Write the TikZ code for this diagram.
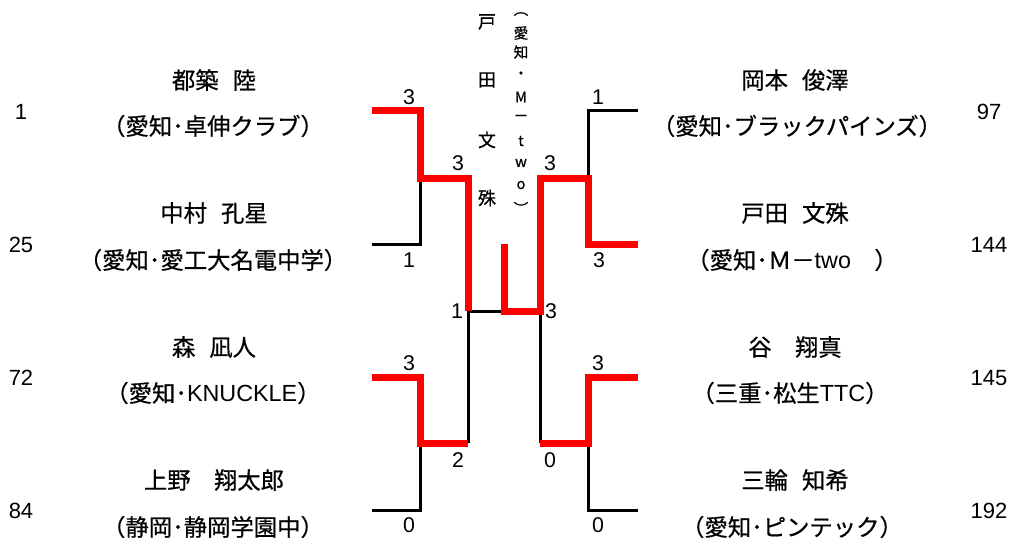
\documentclass[tikz,border=0pt]{standalone}
\usepackage{fontspec}
\setmainfont{Noto Sans CJK JP}[FakeBold=0.6]
\newfontfamily\numfont{Liberation Sans}
\newcommand\latn[1]{{\numfont #1}}
\newcommand\namegap{\hspace{0.6em}}
\begin{document}
\begin{tikzpicture}[x=0.75pt,y=-0.75pt,
  win/.style={draw=red, line width=5.25pt, line join=miter},
  lose/.style={draw=black, line width=2.25pt},
  pname/.style={font=\fontsize{17.5}{19}\selectfont, inner sep=0pt},
  score/.style={font=\numfont\fontsize{16}{18}\selectfont, inner sep=0pt},
  seed/.style={font=\numfont\fontsize{16.5}{18}\selectfont, inner sep=0pt},
  vbig/.style={font=\fontsize{13.5}{15}\selectfont, inner sep=0pt},
  vsmall/.style={font=\fontsize{11}{12}\selectfont, inner sep=0pt}]
\useasboundingbox (0,0) rectangle (1015,540);
% bracket points
\coordinate (a1) at (372,110); \coordinate (a1j) at (420,110);
\coordinate (a2) at (372,244); \coordinate (a2j) at (420,244);
\coordinate (aj) at (420,178); \coordinate (ae) at (468,178);
\coordinate (b1) at (372,377); \coordinate (b1j) at (420,377);
\coordinate (b2) at (372,510); \coordinate (b2j) at (420,510);
\coordinate (bj) at (420,443); \coordinate (be) at (468,443);
\coordinate (fl) at (468,311); \coordinate (fc) at (504,311);
\coordinate (fw) at (504,244); \coordinate (fr) at (540,311);
\coordinate (c1) at (638,110); \coordinate (c1j) at (588,110);
\coordinate (c2) at (638,244); \coordinate (c2j) at (588,244);
\coordinate (cj) at (588,178); \coordinate (ce) at (540,178);
\coordinate (d1) at (638,377); \coordinate (d1j) at (588,377);
\coordinate (d2) at (638,510); \coordinate (d2j) at (588,510);
\coordinate (dj) at (588,443); \coordinate (de) at (540,443);
% losers
\draw[lose] (a2) -- (a2j) -- (aj);
\draw[lose] (b2) -- (b2j) -- (bj);
\draw[lose] (be) -- (fl) -- (fc);
\draw[lose] (c1) -- (c1j) -- (cj);
\draw[lose] (d2) -- (d2j) -- (dj);
\draw[lose] (de) -- (fr);
% winners
\draw[win] (a1) -- (a1j) -- (aj) -- (ae) -- (fl);
\draw[win] (b1) -- (b1j) -- (bj) -- (be);
\draw[win] (c2) -- (c2j) -- (cj) -- (ce) -- (fr) -- (fc) -- (fw);
\draw[win] (d1) -- (d1j) -- (dj) -- (de);
% scores
\node[score] (s1) at (409,97) {3};
\node[score] (s2) at (409,260) {1};
\node[score] (s3) at (458,163) {3};
\node[score] (s4) at (457,311) {1};
\node[score] (s5) at (550,163) {3};
\node[score] (s6) at (598,97) {1};
\node[score] (s7) at (599,260) {3};
\node[score] (s8) at (551,311) {3};
\node[score] (s9) at (409,363) {3};
\node[score] (s10) at (409,525) {0};
\node[score] (s11) at (458,460) {2};
\node[score] (s12) at (550,460) {0};
\node[score] (s13) at (598,363) {3};
\node[score] (s14) at (598,525) {0};
% seeds
\node[seed] (n1) at (21,112) {1};
\node[seed] (n25) at (21,245) {25};
\node[seed] (n72) at (21,378) {72};
\node[seed] (n84) at (21,511) {84};
\node[seed] (n97) at (989,112) {97};
\node[seed] (n144) at (989,245) {144};
\node[seed] (n145) at (989,378) {145};
\node[seed] (n192) at (989,511) {192};
% left names
\node[pname] (p1) at (214,80) {都築\namegap 陸};
\node[pname] (t1) at (213,126) {（愛知･卓伸クラブ）};
\node[pname] (p2) at (214,213) {中村\namegap 孔星};
\node[pname] (t2) at (213,260) {（愛知･愛工大名電中学）};
\node[pname] (p3) at (214,347) {森\namegap 凪人};
\node[pname] (t3) at (213,393) {（愛知･\latn{KNUCKLE}）};
\node[pname] (p4) at (214,480) {上野　翔太郎};
\node[pname] (t4) at (213,527) {（静岡･静岡学園中）};
% right names
\node[pname] (p5) at (795,80) {岡本\namegap 俊澤};
\node[pname] (t5) at (797,126) {（愛知･ブラックパインズ）};
\node[pname] (p6) at (795,213) {戸田\namegap 文殊};
\node[pname] (t6) at (792,260) {（愛知･Ｍ－\latn{two}　）};
\node[pname] (p7) at (795,347) {谷　翔真};
\node[pname] (t7) at (790,393) {（三重･松生\latn{TTC}）};
\node[pname] (p8) at (795,480) {三輪\namegap 知希};
\node[pname] (t8) at (792,527) {（愛知･ピンテック）};
% champion (vertical)
\foreach \ch/\yy [count=\i] in {戸/22,田/80,文/140,殊/198}
  \node[vbig] (w\i) at (487,\yy) {\ch};
\foreach \ch/\yy [count=\i] in {︵/14,愛/33,知/52,・/75,M/97,－/118,t/141,w/163,o/185,︶/208}
  \node[vsmall] (c\i) at (521,\yy) {\ch};
\end{tikzpicture}
\end{document}
